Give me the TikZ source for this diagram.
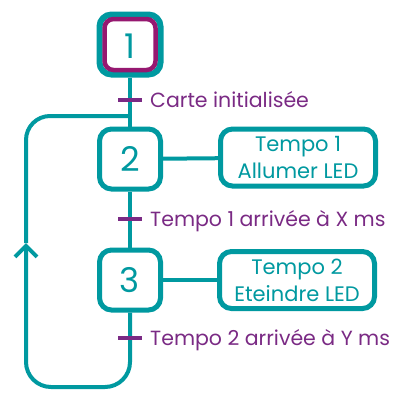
\documentclass[tikz,border=0pt]{standalone}
\usepackage{fontspec}
\setmainfont{Poppins}
\usetikzlibrary{positioning,arrows.meta}
\definecolor{cteal}{RGB}{0,153,160}
\definecolor{cmag}{RGB}{150,24,112}
\definecolor{cpur}{RGB}{122,42,132}

\tikzset{
  link/.style={draw=cteal, line width=4pt},
  stepbox/.style={draw=cteal, fill=white, line width=5pt, rounded corners=12pt,
    minimum width=61pt, minimum height=60pt, text=cteal, inner sep=0pt,
    font=\fontsize{34}{34}\selectfont},
  initbox/.style={draw=cmag, line width=4.5pt, rounded corners=9pt,
    minimum width=51pt, minimum height=51pt, inner sep=0pt},
  actbox/.style={draw=cteal, fill=white, line width=5pt, rounded corners=12pt,
    minimum width=155pt, minimum height=57pt, text=cteal, align=center,
    inner sep=0pt, font=\fontsize{21}{27}\selectfont},
  tbar/.style={fill=cpur, minimum width=24pt, minimum height=4pt, inner sep=0pt},
  tlabel/.style={anchor=base west, text=cpur, inner sep=0pt,
    font=\fontsize{20.5}{22}\selectfont}
}

\begin{document}
\begin{tikzpicture}[x=1pt,y=-1pt]
%
\useasboundingbox (0,0) rectangle (393,392);
%
% steps
\node[stepbox, line width=6pt] (s1) at (130,44.5) {};
\node[initbox] (s1in) at (s1) {};
\node[text=cteal, font=\fontsize{34}{34}\selectfont] (n1) at (130,46) {1};
\node[stepbox] (s2) at (130,159) {2};
\node[stepbox] (s3) at (130,280) {3};
%
% actions
\node[actbox] (a2) at (298,157.5) {Tempo 1\\Allumer LED};
\node[actbox] (a3) at (297,280) {Tempo 2\\Eteindre LED};
%
% loop coordinates
\coordinate (join) at (130,116);
\coordinate (br) at (130,387);
\coordinate (bl) at (26,387);
\coordinate (up) at (26,243);
\coordinate (tl) at (26,116);
%
% links
\draw[link] (s1) -- (s2);
\draw[link] (s2) -- (s3);
\draw[link] (s2) -- (a2);
\draw[link] (s3) -- (a3);
\draw[link, rounded corners=25pt, -{Straight Barb[length=11pt,width=22pt,line width=4pt]}]
  (s3.south) -- (br) -- (bl) -- (up);
\draw[link, rounded corners=24pt] (up) -- (tl) -- (join);
%
% transitions
\node[tbar] (t1) at (130,100) {};
\node[tbar] (t2) at (130,219) {};
\node[tbar] (t3) at (130,338) {};
\node[tlabel] (l1) at (150,107.5) {Carte initialisée};
\node[tlabel] (l2) at (150,226.5) {Tempo 1 arrivée à X ms};
\node[tlabel] (l3) at (150,345.5) {Tempo 2 arrivée à Y ms};
%
\end{tikzpicture}
\end{document}
